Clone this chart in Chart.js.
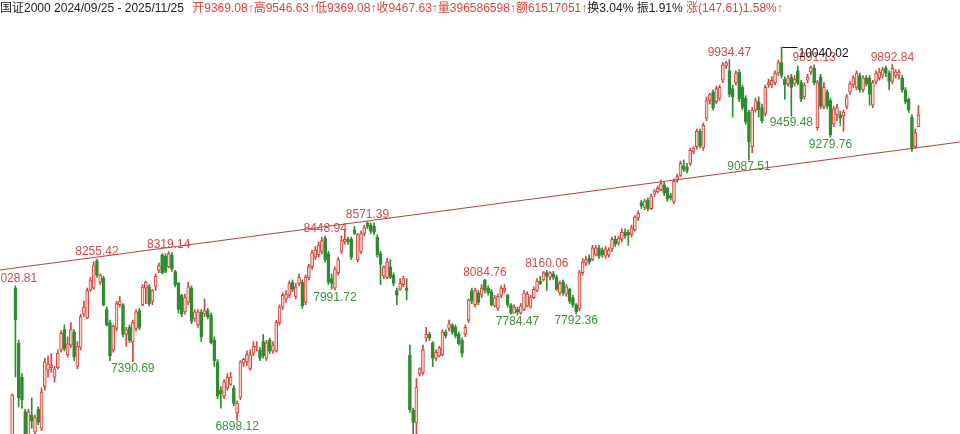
<!DOCTYPE html>
<html>
<head>
<meta charset="utf-8">
<script src="https://cdn.jsdelivr.net/npm/chart.js@4.4.1/dist/chart.umd.min.js"></script>
<style>
html,body{margin:0;padding:0;background:#fff;}
#wrap{position:relative;width:960px;height:434px;overflow:hidden;}
#title{position:absolute;left:0;top:1px;font:12px "Liberation Sans","Noto Sans CJK SC",sans-serif;white-space:nowrap;color:#222;line-height:14px;}
#title .r{color:#d8453f;}
#title .a{font-size:12px;}
#title .h{margin-right:5px;}
canvas{position:absolute;left:0;top:0;}
</style>
</head>
<body>
<div id="wrap">
<canvas id="c" width="960" height="434"></canvas>
<div id="title"><span class="h">国证2000 2024/09/25 - 2025/11/25 </span><span class="r">开9369.08<span class="a">↑</span>高9546.63<span class="a">↑</span>低9369.08<span class="a">↑</span>收9467.63<span class="a">↑</span>量396586598<span class="a">↑</span>额61517051<span class="a">↑</span></span><span>换3.04% 振1.91% </span><span class="r">涨(147.61)1.58%<span class="a">↑</span></span></div>
</div>
<script>
// Daily candles, 2024/09/25 .. 2025/11/25 (index = trading day)
const opens = [5900,6050,6320,6700,8010,7548,7262,6970,6740,6940,6800,6990,6830,7180,7320,7340,7260,7340,7490,7660,
7450,7530,7640,7350,7510,7790,7760,7994,8010,8240,8060,8095,7830,7720,7490,7670,7870,7870,7620,7680,
7560,7670,7820,7870,8010,8020,7900,8020,8160,8290,8280,8190,8290,8150,8050,7950,7810,7890,8010,7750,
7700,7810,7790,7820,7780,7570,7390,7150,7100,7170,7200,7170,6960,7090,7380,7390,7330,7460,7510,7490,
7560,7420,7570,7480,7480,7720,7850,7920,7950,8060,7940,8050,8060,7890,8100,8190,8270,8290,8320,8430,
8300,8090,8010,8140,8320,8400,8420,8420,8500,8250,8320,8470,8560,8540,8530,8440,8300,8110,8100,8190,
8120,7990,8000,8040,8010,7447,6980,6874,7290,7300,7590,7620,7550,7420,7440,7450,7640,7670,7700,7680,
7620,7570,7620,7740,7990,7870,7970,7950,8080,8010,7980,7860,7840,7950,7990,7950,7870,7800,7830,7800,
7830,7860,7850,7930,7990,8070,8080,8140,8100,8130,8100,7970,8060,7960,8000,7930,7870,7840,8140,8220,
8260,8250,8290,8350,8330,8280,8290,8340,8420,8390,8420,8480,8480,8460,8500,8600,8730,8690,8750,8680,
8800,8820,8840,8880,8850,8790,8735,8920,8960,9040,9030,9060,9160,9200,9330,9190,9440,9590,9660,9580,
9610,9760,9880,9840,9690,9740,9830,9700,9610,9490,9200,9510,9580,9530,9480,9720,9720,9740,9820,9910,
9770,9730,9790,9730,9840,9740,9620,9760,9830,9860,9360,9790,9540,9660,9590,9390,9470,9470,9460,9540,
9660,9720,9700,9800,9680,9780,9780,9550,9750,9780,9800,9860,9820,9750,9800,9800,9780,9680,9600,9450,
9200,9369.08];
const highs = [6050,6300,6620,7120,8028.81,7573,7290,6990,6990,7085,6940,7010,7170,7420,7440,7460,7350,7490,7650,7700,
7600,7720,7660,7560,7790,7900,8010,8100,8230,8255.42,8130,8110,7850,7740,7700,7900,7940,7880,7680,7700,
7740,7830,7840,8040,8070,8040,8000,8130,8220,8300,8300,8319.14,8310,8160,8060,7960,7960,8060,8030,7830,
7830,7830,7920,7840,7800,7600,7410,7180,7240,7290,7300,7190,7060,7400,7420,7480,7490,7560,7560,7510,
7620,7570,7590,7560,7740,7870,7970,7990,8070,8080,8050,8130,8080,8120,8210,8330,8360,8400,8440,8448.94,
8320,8130,8190,8270,8450,8500,8440,8440,8530,8470,8490,8540,8571.39,8560,8560,8460,8320,8200,8260,8250,
8140,8010,8090,8110,8090,7531,7000,7250,7340,7530,7680,7640,7560,7490,7520,7660,7660,7740,7710,7700,
7640,7590,7700,7920,8010,8010,7990,8040,8084.76,8030,8000,7950,7960,8030,8040,7960,7880,7870,7850,7880,
7990,7980,7950,8020,8090,8110,8150,8160.06,8150,8150,8120,8070,8080,8040,8010,7950,7880,8160,8260,8280,
8290,8370,8370,8370,8350,8360,8350,8440,8450,8450,8510,8510,8500,8540,8620,8660,8750,8760,8770,8800,
8840,8870,8920,8900,8860,8810,8930,8970,9080,9090,9060,9190,9200,9350,9350,9400,9620,9650,9680,9710,
9720,9910,9920,9934.47,9720,9840,9850,9720,9630,9510,9530,9610,9620,9560,9720,9770,9790,9840,9930,10040.02,
9790,9800,9810,9800,9880,9760,9740,9810,9880,9891.13,9760,9810,9740,9680,9610,9540,9560,9500,9510,9640,
9750,9800,9840,9820,9800,9800,9800,9760,9840,9860,9870,9880,9840,9892.84,9850,9850,9800,9700,9610,9470,
9350,9546.63];
const lows = [5880,6030,6300,6680,7262,7010,7000,6690,6700,6830,6780,6860,6810,7150,7260,7300,7220,7330,7470,7480,
7430,7510,7400,7330,7490,7770,7750,7980,8000,8100,8040,7860,7690,7400,7470,7650,7850,7600,7520,7550,
7390.69,7650,7660,7860,7880,7860,7870,7990,8140,8130,8140,8180,8150,8020,7800,7770,7790,7870,7710,7730,
7680,7560,7770,7750,7540,7350,7080,7000,7080,7150,7190,7020,6898.12,7070,7350,7360,7320,7440,7480,7400,
7420,7400,7460,7460,7470,7700,7830,7890,7930,7980,7920,8030,7840,7870,8080,8170,8250,8270,8300,8230,
8040,8000,7991.72,8120,8300,8380,8380,8250,8460,8230,8300,8450,8510,8470,8460,8270,8040,8090,8090,8090,
8030,7870,7990,8020,7910,6965,6760,6700,7270,7280,7560,7570,7350,7400,7430,7440,7590,7650,7620,7590,
7530,7430,7600,7720,7880,7850,7870,7930,7970,7950,7860,7850,7820,7930,7970,7850,7790,7800,7784.47,7790,
7820,7850,7840,7920,7980,8040,8070,7990,8080,8080,7990,7950,7950,7940,7880,7850,7792.36,7820,8120,8200,
8210,8240,8280,8260,8270,8260,8270,8320,8360,8370,8400,8430,8370,8440,8490,8580,8680,8670,8660,8670,
8780,8810,8830,8790,8740,8750,8720,8900,8950,8990,8980,9040,9140,9180,9190,9170,9420,9560,9510,9560,
9590,9740,9860,9620,9450,9720,9580,9510,9390,9087.51,9150,9490,9450,9400,9460,9700,9700,9720,9800,9780,
9600,9710,9459.48,9710,9720,9580,9600,9740,9810,9720,9340,9520,9520,9520,9279.76,9370,9420,9380,9330,9520,
9640,9700,9680,9660,9660,9710,9550,9530,9730,9760,9780,9790,9680,9730,9780,9770,9660,9560,9490,9160,
9190,9369.08];
const closes = [6040,6290,6600,7110,7742,7085,7068,6720,6970,6890,6920,6880,7135,7390,7370,7360,7330,7460,7630,7500,
7540,7660,7430,7520,7770,7850,7990,8078,8205,8120,8120,7870,7700,7440,7690,7880,7900,7620,7660,7570,
7720,7810,7680,8020,8060,7880,7990,8110,8200,8140,8150,8300,8170,8040,7830,7790,7930,8020,7730,7810,
7810,7600,7820,7770,7550,7400,7100,7120,7220,7260,7260,7040,7040,7390,7410,7450,7450,7520,7520,7420,
7440,7550,7480,7530,7720,7850,7950,7960,8050,8000,8020,8100,7860,8100,8190,8310,8330,8370,8410,8250,
8060,8050,8170,8250,8410,8420,8400,8270,8470,8460,8470,8520,8530,8490,8480,8290,8210,8190,8230,8100,
8050,7950,8050,8090,7990,6984,6880,7177,7330,7490,7620,7590,7420,7470,7510,7640,7610,7710,7640,7610,
7540,7460,7680,7910,7900,7990,7890,8010,7990,7970,7870,7930,7940,8010,8010,7870,7800,7850,7810,7860,
7970,7960,7930,8000,8070,8050,8140,8110,8140,8100,8000,8050,7970,8020,7900,7870,7810,8140,8230,8250,
8230,8350,8350,8280,8290,8340,8330,8420,8380,8430,8480,8450,8460,8520,8610,8640,8700,8740,8680,8780,
8830,8850,8890,8810,8760,8770,8910,8950,9060,9010,9000,9170,9190,9330,9210,9380,9590,9640,9530,9690,
9700,9890,9910,9640,9620,9820,9600,9530,9410,9240,9510,9590,9510,9420,9700,9740,9760,9820,9910,9800,
9720,9780,9700,9770,9740,9600,9720,9790,9870,9740,9740,9540,9700,9540,9300,9520,9530,9440,9490,9620,
9730,9780,9820,9680,9780,9730,9640,9740,9820,9830,9850,9820,9750,9860,9830,9830,9680,9580,9510,9180,
9320,9467.63];
// annotated extremes (candle indexes)
const peakIdx = [4, 29, 51, 99, 112, 148, 167, 223, 249, 273];
const troughIdx = [40, 72, 102, 158, 176, 229, 242, 254];
const maxIdx = 239;
// trend line prices at the left and right edge of the plot
const trendPrices = [8162.6, 9240.4];

const UP = '#d8413c', UPFILL = '#f2d6c4', DOWN = '#2f8c30';
const X_MIN = -0.736, X_MAX = 293.74, Y_MIN = 6781.7, Y_MAX = 10436;

const isUp = closes.map((c, i) => c >= opens[i]);
const wickData = highs.map((h, i) => ({x: i, y: [lows[i], h]}));
const bodyData = opens.map((o, i) => ({x: i, y: [o, closes[i]]}));

const labelPlugin = {
  id: 'labels',
  afterDatasetsDraw(chart) {
    const {ctx, scales: {x, y}} = chart;
    ctx.save();
    ctx.font = '12px "Liberation Sans", Arial, sans-serif';
    ctx.textAlign = 'center';
    ctx.textBaseline = 'middle';
    ctx.fillStyle = '#d4474c';
    peakIdx.forEach(i => {
      ctx.fillText(highs[i].toFixed(2), x.getPixelForValue(i), y.getPixelForValue(highs[i]) - 7);
    });
    ctx.fillStyle = '#3a9240';
    troughIdx.forEach(i => {
      ctx.fillText(lows[i].toFixed(2), x.getPixelForValue(i), y.getPixelForValue(lows[i]) + 7);
    });
    const mx = Math.round(x.getPixelForValue(maxIdx)) + 0.5;
    const my = Math.round(y.getPixelForValue(highs[maxIdx])) + 0.5;
    ctx.strokeStyle = '#111';
    ctx.lineWidth = 1;
    ctx.beginPath();
    ctx.moveTo(mx, my);
    ctx.lineTo(mx + 15, my);
    ctx.stroke();
    ctx.fillStyle = '#111';
    ctx.textAlign = 'left';
    ctx.fillText(highs[maxIdx].toFixed(2), mx + 16, my + 6);
    ctx.restore();
  }
};

new Chart(document.getElementById('c'), {
  type: 'bar',
  data: {
    datasets: [
      {
        type: 'line',
        data: [{x: X_MIN, y: trendPrices[0]}, {x: X_MAX, y: trendPrices[1]}],
        borderColor: '#b5423f',
        borderWidth: 1,
        pointRadius: 0,
        order: 0
      },
      {
        data: bodyData,
        backgroundColor: isUp.map(u => u ? UPFILL : DOWN),
        borderColor: isUp.map(u => u ? UP : DOWN),
        borderWidth: 1,
        borderSkipped: false,
        barThickness: 3,
        minBarLength: 1,
        grouped: false,
        order: 1
      },
      {
        data: wickData,
        backgroundColor: isUp.map(u => u ? UP : DOWN),
        borderWidth: 0,
        barThickness: 1,
        grouped: false,
        order: 2
      }
    ]
  },
  options: {
    responsive: false,
    animation: false,
    events: [],
    layout: {padding: 0},
    plugins: {legend: {display: false}, tooltip: {enabled: false}},
    scales: {
      x: {type: 'linear', display: false, min: X_MIN, max: X_MAX, offset: false},
      y: {display: false, min: Y_MIN, max: Y_MAX}
    }
  },
  plugins: [labelPlugin]
});
</script>
</body>
</html>
